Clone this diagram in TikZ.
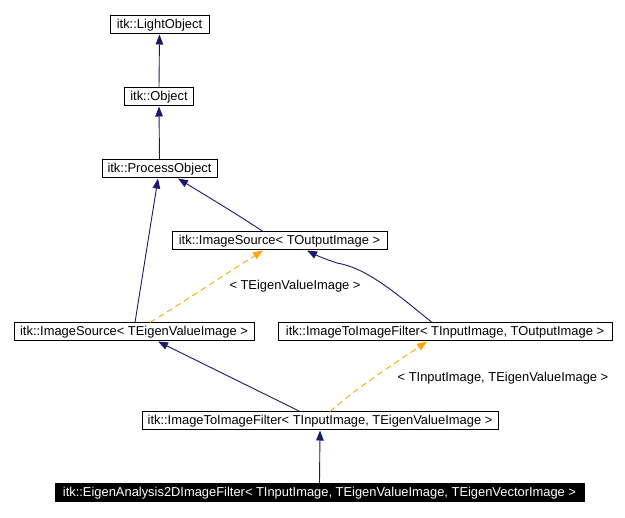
\documentclass[tikz,border=0pt]{standalone}
\usepackage{fontspec}
\setmainfont{Liberation Sans}
\usetikzlibrary{arrows.meta}
\definecolor{edgeblue}{HTML}{191970}
\definecolor{tmplorange}{HTML}{FFA500}
\begin{document}
\begin{tikzpicture}[x=1pt,y=-1pt,
  font=\fontsize{12.9}{15}\selectfont,
  cls/.style={draw=black, line width=1pt, fill=white, inner sep=0pt, minimum height=18pt, anchor=center},
  cur/.style={cls, fill=black, text=white},
  inh/.style={draw=edgeblue, line width=0.9pt, -{Triangle[length=10pt,width=7.5pt,fill=edgeblue]}},
  tmpl/.style={draw=tmplorange, line width=0.9pt, dash pattern=on 6pt off 4pt, -{Triangle[length=10pt,width=7.5pt,fill=tmplorange]}},
  lbl/.style={inner sep=0pt, anchor=center}]
\useasboundingbox (0,0) rectangle (625,518);
\fill[white] (0,0) rectangle (625,518);

\node[cls, minimum width=99pt]  (lo)   at (159.5,25)  {itk::LightObject};
\node[cls, minimum width=69pt]  (obj)  at (159,97)    {itk::Object};
\node[cls, minimum width=115pt] (po)   at (159.5,169) {itk::ProcessObject};
\node[cls, minimum width=215pt] (isTO) at (279.5,241) {itk::ImageSource< TOutputImage >};
\node[cls, minimum width=240pt] (isEV) at (134,332)   {itk::ImageSource< TEigenValueImage >};
\node[cls, minimum width=334pt] (itiTO) at (445,332)  {itk::ImageToImageFilter< TInputImage, TOutputImage >};
\node[cls, minimum width=356pt] (itiEV) at (320,421)  {itk::ImageToImageFilter< TInputImage, TEigenValueImage >};
\node[cur, minimum width=529pt] (ea)   at (319.5,493) {itk::EigenAnalysis2DImageFilter< TInputImage, TEigenValueImage, TEigenVectorImage >};

\draw[inh] (obj.north) -- (lo.south);
\draw[inh] (po.north) -- (obj.south);
\draw[inh] ([xshift=-16.5pt]isTO.north) .. controls (240,216) and (205,195) .. ([xshift=18.5pt]po.south);
\draw[inh] ([xshift=1pt]isEV.north) -- ([xshift=-1.5pt]po.south);
\draw[tmpl] ([xshift=16pt]isEV.north) .. controls (190,298) and (235,268) .. ([xshift=-16.5pt]isTO.south);
\node[lbl] (l1) at (295,286) {< TEigenValueImage >};
\draw[inh] ([xshift=-13pt]itiTO.north) .. controls (390,288) and (365,268) .. (337,263) .. controls (325,259) and (318,256) .. ([xshift=27.5pt]isTO.south);
\draw[inh] ([xshift=-20pt]itiEV.north) -- ([xshift=24pt]isEV.south);
\draw[tmpl] ([xshift=10pt]itiEV.north) .. controls (360,385) and (400,360) .. ([xshift=-18pt]itiTO.south);
\node[lbl] (l2) at (503,378) {< TInputImage, TEigenValueImage >};
\draw[inh] (ea.north) -- (itiEV.south);
\end{tikzpicture}
\end{document}
